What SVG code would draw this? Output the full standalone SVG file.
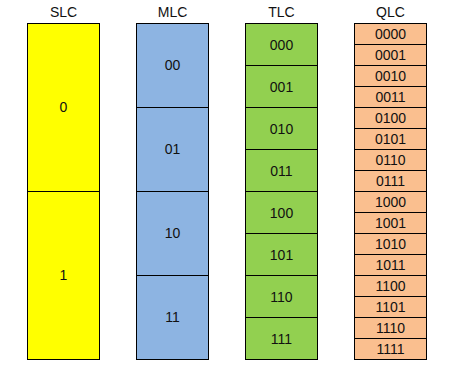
<svg xmlns="http://www.w3.org/2000/svg" width="452" height="379" viewBox="0 0 452 379">
<style>
rect{stroke:#000;stroke-width:1}
.s{fill:#FFFF00}.m{fill:#8DB4E2}.t{fill:#92D050}.q{fill:#FABF8F}
text{font-family:"Liberation Sans",Arial,sans-serif;font-size:14px;fill:#111;text-anchor:middle}
</style>
<rect width="452" height="379" fill="#fff" style="stroke:none"/>
<g id="headers">
<text x="63.5" y="17">SLC</text>
<text x="172.5" y="17">MLC</text>
<text x="281.5" y="17">TLC</text>
<text x="390.5" y="17">QLC</text>
</g>
<g id="slc">
<rect class="s" x="27.5" y="23.5" width="72" height="168"/><text x="63.5" y="112">0</text>
<rect class="s" x="27.5" y="191.5" width="72" height="168"/><text x="63.5" y="280">1</text>
</g>
<g id="mlc">
<rect class="m" x="136.5" y="23.5" width="72" height="84"/><text x="172.5" y="70">00</text>
<rect class="m" x="136.5" y="107.5" width="72" height="84"/><text x="172.5" y="154">01</text>
<rect class="m" x="136.5" y="191.5" width="72" height="84"/><text x="172.5" y="238">10</text>
<rect class="m" x="136.5" y="275.5" width="72" height="84"/><text x="172.5" y="322">11</text>
</g>
<g id="tlc">
<rect class="t" x="245.5" y="23.5" width="72" height="42"/><text x="281.5" y="50">000</text>
<rect class="t" x="245.5" y="65.5" width="72" height="42"/><text x="281.5" y="92">001</text>
<rect class="t" x="245.5" y="107.5" width="72" height="42"/><text x="281.5" y="134">010</text>
<rect class="t" x="245.5" y="149.5" width="72" height="42"/><text x="281.5" y="176">011</text>
<rect class="t" x="245.5" y="191.5" width="72" height="42"/><text x="281.5" y="218">100</text>
<rect class="t" x="245.5" y="233.5" width="72" height="42"/><text x="281.5" y="260">101</text>
<rect class="t" x="245.5" y="275.5" width="72" height="42"/><text x="281.5" y="302">110</text>
<rect class="t" x="245.5" y="317.5" width="72" height="42"/><text x="281.5" y="344">111</text>
</g>
<g id="qlc">
<rect class="q" x="354.5" y="23.5" width="72" height="21"/><text x="390.5" y="39">0000</text>
<rect class="q" x="354.5" y="44.5" width="72" height="21"/><text x="390.5" y="60">0001</text>
<rect class="q" x="354.5" y="65.5" width="72" height="21"/><text x="390.5" y="81">0010</text>
<rect class="q" x="354.5" y="86.5" width="72" height="21"/><text x="390.5" y="102">0011</text>
<rect class="q" x="354.5" y="107.5" width="72" height="21"/><text x="390.5" y="123">0100</text>
<rect class="q" x="354.5" y="128.5" width="72" height="21"/><text x="390.5" y="144">0101</text>
<rect class="q" x="354.5" y="149.5" width="72" height="21"/><text x="390.5" y="165">0110</text>
<rect class="q" x="354.5" y="170.5" width="72" height="21"/><text x="390.5" y="186">0111</text>
<rect class="q" x="354.5" y="191.5" width="72" height="21"/><text x="390.5" y="207">1000</text>
<rect class="q" x="354.5" y="212.5" width="72" height="21"/><text x="390.5" y="228">1001</text>
<rect class="q" x="354.5" y="233.5" width="72" height="21"/><text x="390.5" y="249">1010</text>
<rect class="q" x="354.5" y="254.5" width="72" height="21"/><text x="390.5" y="270">1011</text>
<rect class="q" x="354.5" y="275.5" width="72" height="21"/><text x="390.5" y="291">1100</text>
<rect class="q" x="354.5" y="296.5" width="72" height="21"/><text x="390.5" y="312">1101</text>
<rect class="q" x="354.5" y="317.5" width="72" height="21"/><text x="390.5" y="333">1110</text>
<rect class="q" x="354.5" y="338.5" width="72" height="21"/><text x="390.5" y="354">1111</text>
</g>
<g id="connectors"/>
</svg>
